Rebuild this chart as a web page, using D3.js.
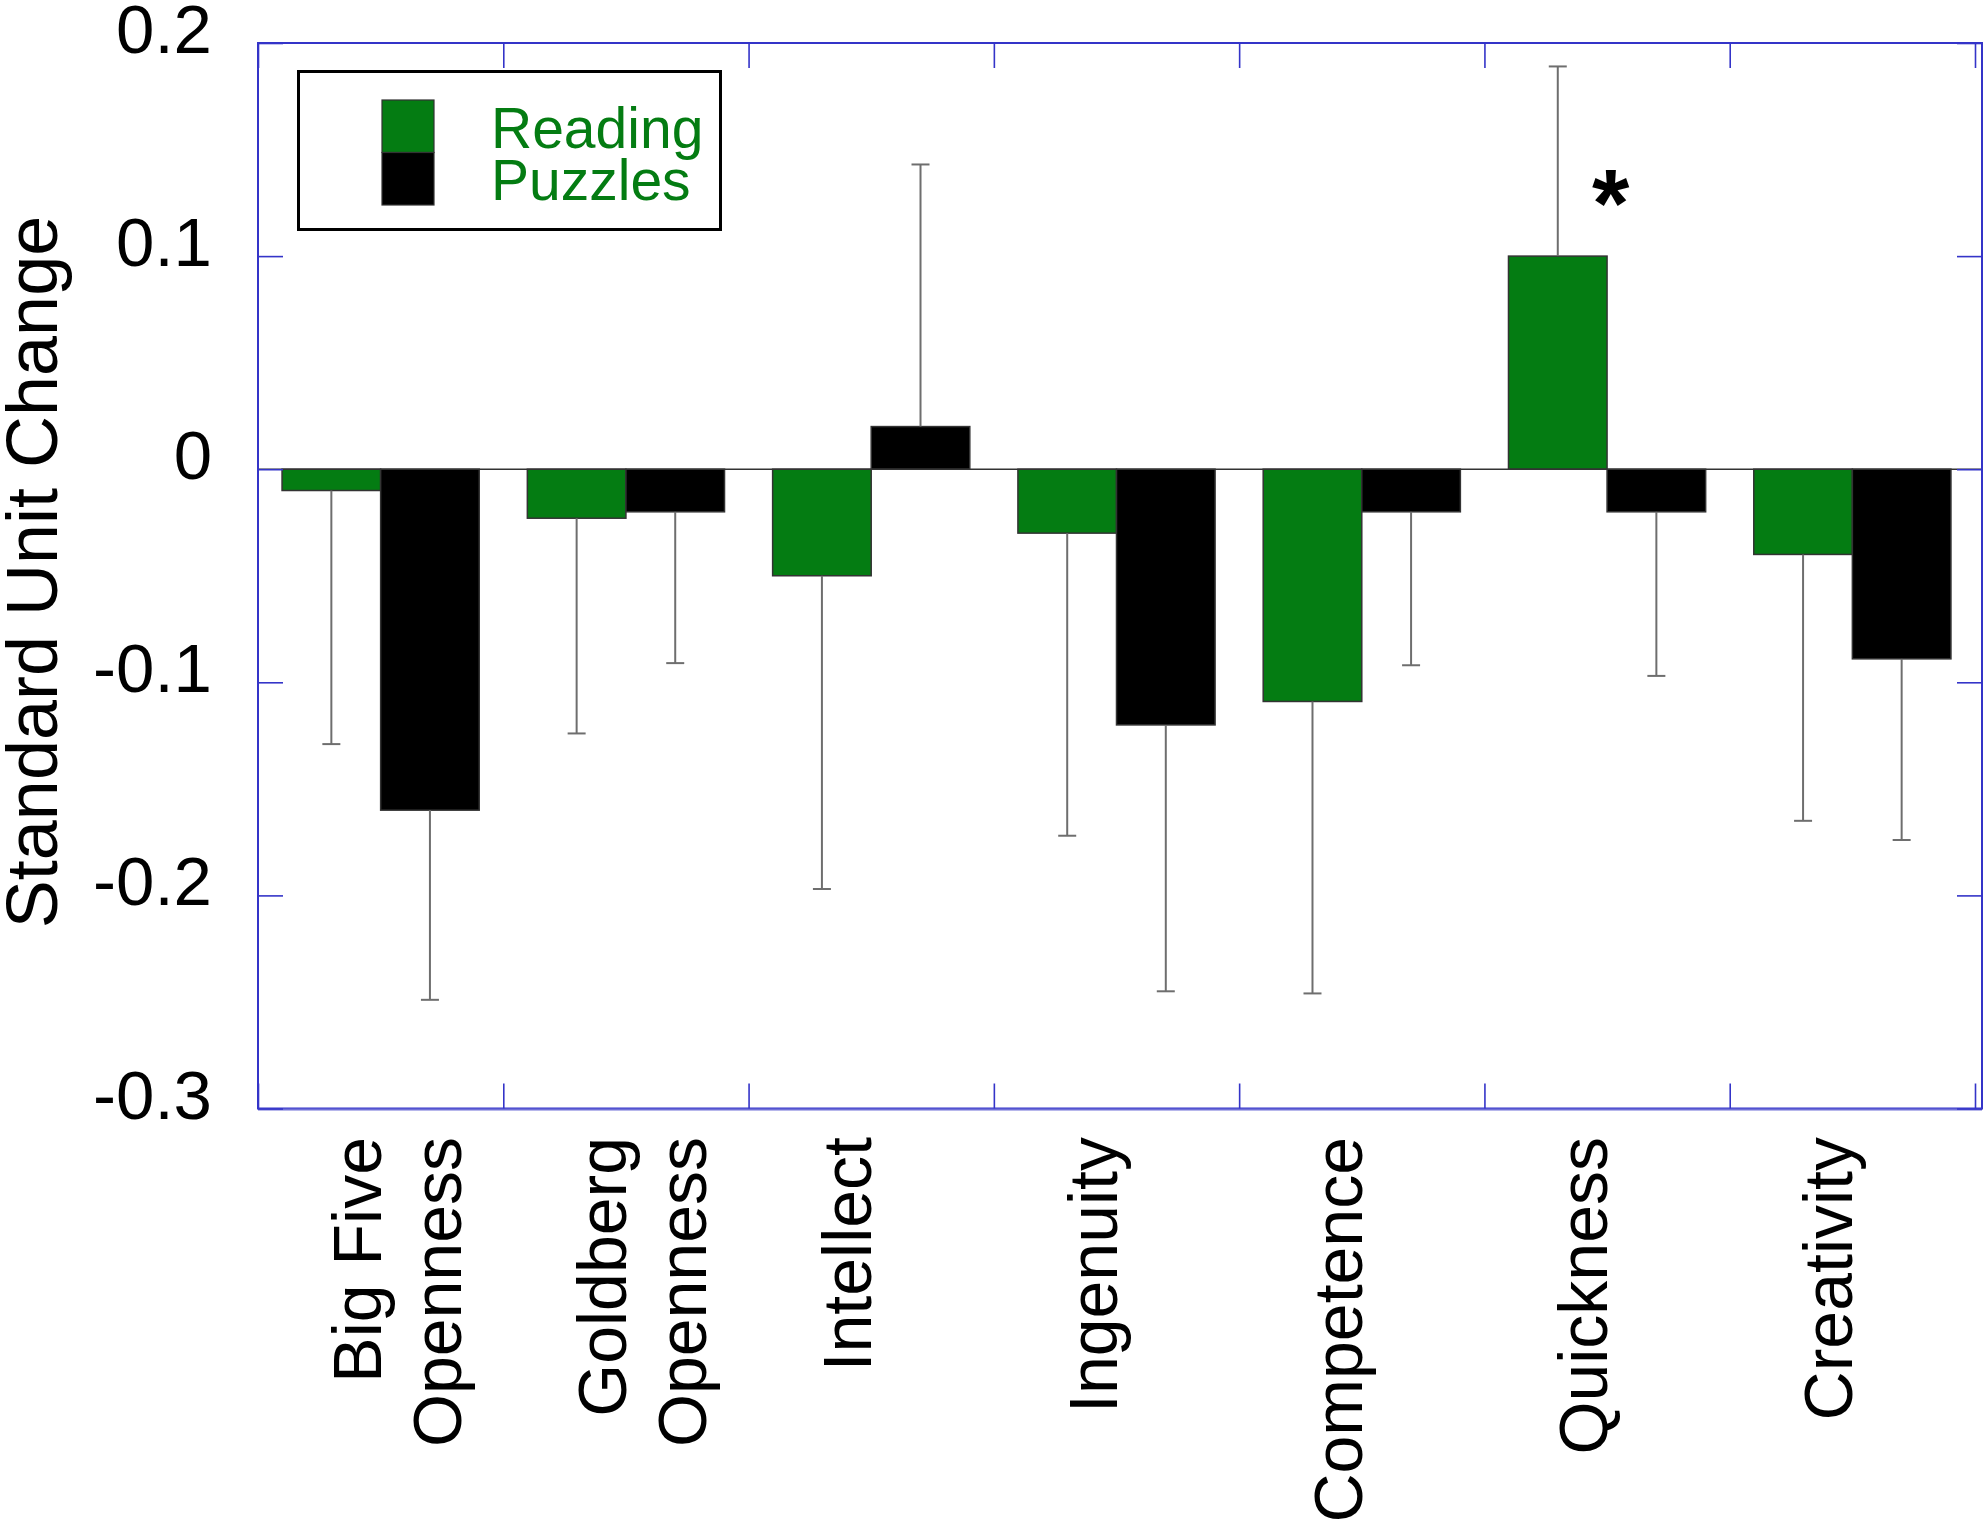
<!DOCTYPE html>
<html>
<head>
<meta charset="utf-8">
<script src="https://cdn.jsdelivr.net/npm/d3@7"></script>
<style>
  html, body { margin: 0; padding: 0; background: #ffffff; }
  svg { display: block; }
  text { font-family: "Liberation Sans", Arial, sans-serif; }
</style>
</head>
<body>
<svg id="chart" width="1983" height="1521"></svg>
<script>
// ---- data ----
const categories = [["Big Five", "Openness"], ["Goldberg", "Openness"], ["Intellect"], ["Ingenuity"], ["Competence"], ["Quickness"], ["Creativity"]];
const seriesNames = ["Reading", "Puzzles"];
const readingValues = [-0.010, -0.023, -0.050, -0.030, -0.109, 0.100, -0.040];
const readingErrors = [0.119, 0.101, 0.147, 0.142, 0.137, 0.089, 0.125];
const puzzlesValues = [-0.160, -0.020, 0.020, -0.120, -0.020, -0.020, -0.089];
const puzzlesErrors = [0.089, 0.071, 0.123, 0.125, 0.072, 0.077, 0.085];
const yTicks = [0.2, 0.1, 0, -0.1, -0.2, -0.3];
const yTickLabels = ["0.2", "0.1", "0", "-0.1", "-0.2", "-0.3"];
const significant = [{ category: 5, label: "*" }];

// ---- layout ----
const W = 1983, H = 1521;
const plot = { left: 258, right: 1975, frameRight: 1982, top: 43, bottom: 1108.5 };
const green = "#047c12";
const frameColor = "#3434c8";

const svg = d3.select("#chart");
svg.append("rect").attr("width", W).attr("height", H).attr("fill", "#fff");

const y = d3.scaleLinear().domain([-0.3, 0.2]).range([plot.bottom, plot.top]);
const x0 = d3.scaleBand().domain(d3.range(categories.length)).range([plot.left, plot.right]).paddingInner(0).paddingOuter(0);
const x1 = d3.scaleBand().domain(seriesNames).range([0, x0.bandwidth()]).paddingOuter(0.244).paddingInner(0);

const rows = categories.map((c, i) => ({
  i,
  bars: [
    { s: "Reading", v: readingValues[i], e: readingErrors[i], fill: green },
    { s: "Puzzles", v: puzzlesValues[i], e: puzzlesErrors[i], fill: "#000000" }
  ]
}));

const g = svg.append("g");

// bars
const groups = g.selectAll(".grp").data(rows).join("g")
  .attr("transform", d => `translate(${x0(d.i)},0)`);

groups.selectAll("rect.bar").data(d => d.bars).join("rect")
  .attr("class", "bar")
  .attr("x", d => x1(d.s))
  .attr("width", x1.bandwidth())
  .attr("y", d => y(Math.max(0, d.v)))
  .attr("height", d => Math.abs(y(d.v) - y(0)))
  .attr("fill", d => d.fill)
  .attr("stroke", "#333")
  .attr("stroke-width", 1.5);

// error bars (one-sided, away from zero)
const errG = groups.selectAll("g.err").data(d => d.bars).join("g").attr("class", "err");
const endOf = d => d.v >= 0 ? d.v + d.e : d.v - d.e;
errG.append("line")
  .attr("x1", d => x1(d.s) + x1.bandwidth() / 2)
  .attr("x2", d => x1(d.s) + x1.bandwidth() / 2)
  .attr("y1", d => y(d.v))
  .attr("y2", d => y(endOf(d)))
  .attr("stroke", "#6e6e6e").attr("stroke-width", 2);
errG.append("line")
  .attr("x1", d => x1(d.s) + x1.bandwidth() / 2 - 9)
  .attr("x2", d => x1(d.s) + x1.bandwidth() / 2 + 9)
  .attr("y1", d => y(endOf(d)))
  .attr("y2", d => y(endOf(d)))
  .attr("stroke", "#6e6e6e").attr("stroke-width", 2);

// zero line
g.append("line")
  .attr("x1", plot.left).attr("x2", plot.frameRight)
  .attr("y1", y(0)).attr("y2", y(0))
  .attr("stroke", "#333").attr("stroke-width", 1.6);

// frame
svg.append("rect")
  .attr("x", plot.left).attr("y", plot.top)
  .attr("width", plot.frameRight - plot.left).attr("height", plot.bottom - plot.top)
  .attr("fill", "none").attr("stroke", frameColor).attr("stroke-width", 2);
svg.append("line")
  .attr("x1", plot.left).attr("x2", plot.frameRight)
  .attr("y1", plot.bottom + 1).attr("y2", plot.bottom + 1)
  .attr("stroke", "#7070d8").attr("stroke-width", 2);

// inward ticks via d3 axes
const tickLen = 25;
const yAxisL = d3.axisRight(y).tickValues(yTicks).tickSize(tickLen).tickFormat("");
const yAxisR = d3.axisLeft(y).tickValues(yTicks).tickSize(tickLen).tickFormat("");
const xb = d3.scaleLinear().domain([0, categories.length]).range([plot.left, plot.right]);
const xBoundaries = d3.range(categories.length + 1);
const xAxisB = d3.axisTop(xb).tickValues(xBoundaries).tickSize(tickLen).tickFormat("");
const xAxisT = d3.axisBottom(xb).tickValues(xBoundaries).tickSize(tickLen).tickFormat("");

function styleAxis(sel) {
  sel.select(".domain").remove();
  sel.selectAll(".tick line").attr("stroke", frameColor).attr("stroke-width", 1.6);
}
svg.append("g").attr("transform", `translate(${plot.left},0)`).call(yAxisL).call(styleAxis);
svg.append("g").attr("transform", `translate(${plot.frameRight},0)`).call(yAxisR).call(styleAxis);
svg.append("g").attr("transform", `translate(0,${plot.bottom})`).call(xAxisB).call(styleAxis);
svg.append("g").attr("transform", `translate(0,${plot.top})`).call(xAxisT).call(styleAxis);

// y tick labels
svg.append("g").selectAll("text").data(yTicks).join("text")
  .attr("x", 212)
  .attr("y", d => y(d) + 10)
  .attr("text-anchor", "end")
  .attr("font-size", 69)
  .attr("fill", "#000")
  .text((d, i) => yTickLabels[i]);

// y axis title
svg.append("text")
  .attr("transform", "translate(57,572) rotate(-90)")
  .attr("text-anchor", "middle")
  .attr("font-size", 72)
  .attr("fill", "#000")
  .text("Standard Unit Change");

// x category labels (rotated)
const xl = svg.append("g").selectAll("text").data(categories).join("text")
  .attr("transform", (d, i) => `translate(${x0(i) + x0.bandwidth() / 2},1137) rotate(-90)`)
  .attr("text-anchor", "end")
  .attr("font-size", 68)
  .attr("fill", "#000");
xl.selectAll("tspan").data(d => d).join("tspan")
  .attr("x", 0)
  .attr("dy", (d, i) => i === 0 ? 0 : 80)
  .text(d => d);

// significance marker
svg.append("g").selectAll("text").data(significant).join("text")
  .attr("x", d => x0(d.category) + x0.bandwidth() * 0.515)
  .attr("y", 236)
  .attr("text-anchor", "middle")
  .attr("font-size", 96)
  .attr("font-weight", "bold")
  .attr("fill", "#000")
  .text(d => d.label);

// legend
const legend = svg.append("g");
legend.append("rect")
  .attr("x", 298.5).attr("y", 71.5).attr("width", 422).attr("height", 158)
  .attr("fill", "#fff").attr("stroke", "#000").attr("stroke-width", 3);
const legendItems = [{ name: seriesNames[0], fill: green }, { name: seriesNames[1], fill: "#000" }];
legend.selectAll("rect.sw").data(legendItems).join("rect")
  .attr("class", "sw")
  .attr("x", 382).attr("y", (d, i) => 100 + i * 52.5)
  .attr("width", 52).attr("height", 52.5)
  .attr("fill", d => d.fill).attr("stroke", "#333").attr("stroke-width", 1.2);
legend.selectAll("text").data(legendItems).join("text")
  .attr("x", 491).attr("y", (d, i) => 148 + i * 52)
  .attr("font-size", 57)
  .attr("fill", green)
  .text(d => d.name);
</script>
</body>
</html>
